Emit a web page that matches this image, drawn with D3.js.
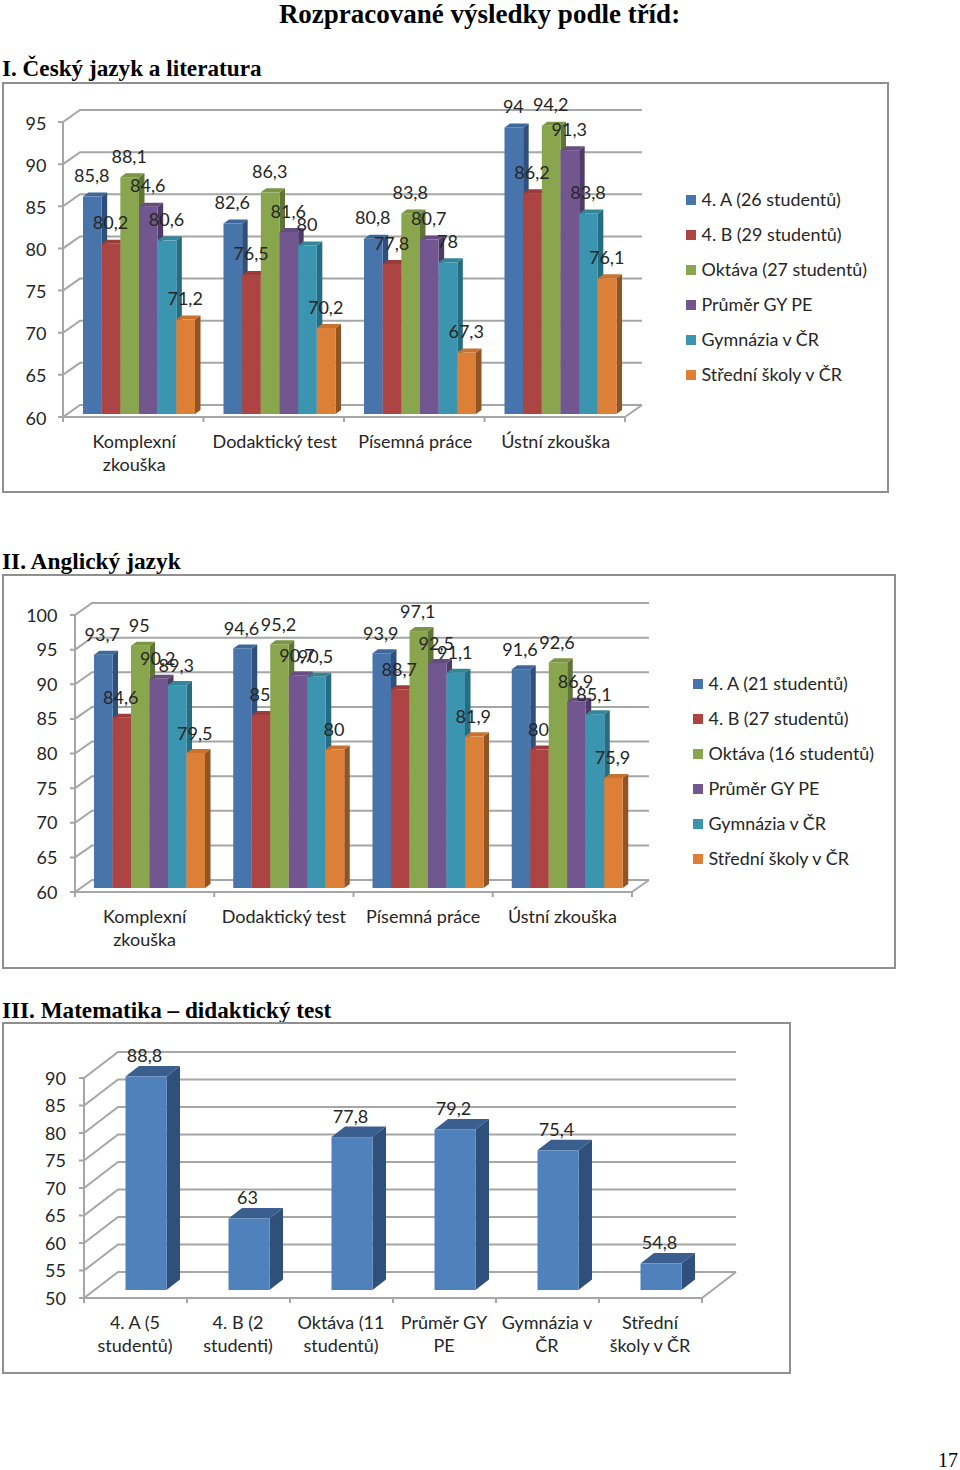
<!DOCTYPE html>
<html><head><meta charset="utf-8">
<script src="https://cdn.jsdelivr.net/npm/d3@7"></script>
<style>
html,body{margin:0;padding:0;background:#fff}
svg{display:block}
.serif{font-family:"Liberation Serif",serif;font-weight:bold;fill:#000}
.lab{font-family:Lato,"Open Sans",sans-serif;fill:#262626}
</style></head><body>
<svg id="c" width="960" height="1470"></svg>
<script>
const exams = ["Komplexní zkouška","Dodaktický test","Písemná práce","Ústní zkouška"];
const czechSeries = ["4. A (26 studentů)","4. B (29 studentů)","Oktáva (27 studentů)","Průměr GY PE","Gymnázia v ČR","Střední školy v ČR"];
const czechValues = [
 [85.8,80.2,88.1,84.6,80.6,71.2],
 [82.6,76.5,86.3,81.6,80,70.2],
 [80.8,77.8,83.8,80.7,78,67.3],
 [94,86.2,94.2,91.3,83.8,76.1]];
const englishSeries = ["4. A (21 studentů)","4. B (27 studentů)","Oktáva (16 studentů)","Průměr GY PE","Gymnázia v ČR","Střední školy v ČR"];
const englishValues = [
 [93.7,84.6,95,90.2,89.3,79.5],
 [94.6,85,95.2,90.7,90.5,80],
 [93.9,88.7,97.1,92.5,91.1,81.9],
 [91.6,80,92.6,86.9,85.1,75.9]];
const mathCategories = ["4. A (5 studentů)","4. B (2 studenti)","Oktáva (11 studentů)","Průměr GY PE","Gymnázia v ČR","Střední školy v ČR"];
const mathValues = [88.8,63,77.8,79.2,75.4,54.8];
const czechTicks = d3.range(60,96,5);
const englishTicks = d3.range(60,101,5);
const mathTicks = d3.range(50,91,5);
const faces = ["#4674ab","#ab4442","#89a64e","#71568f","#3c95b0","#dd8037"];
const sides = ["#2f4f7c","#7c2f2e","#5f7535","#4e3b66","#256d83","#925422"];
const tops  = ["#3d689c","#9a3c3a","#7b9545","#654d80","#358599","#c7722f"];
const mathFace="#4f81bd", mathSide="#30507c", mathTop="#3a5f8e";

const svg=d3.select("#c");
const fmt=v=>String(v).replace(".",",");
const pts=a=>a.map(p=>p.join(",")).join(" ");

function txt(x,y,s,size,cls,anchor){
  return svg.append("text").attr("x",x).attr("y",y).attr("class",cls).attr("font-size",size)
    .attr("text-anchor",anchor||"start").attr("dominant-baseline","middle").text(s);
}
function chart(o){
  svg.append("rect").attr("x",o.frame[0]).attr("y",o.frame[1]).attr("width",o.frame[2]-o.frame[0])
    .attr("height",o.frame[3]-o.frame[1]).attr("fill","#fff").attr("stroke","#8f8f8f").attr("stroke-width",2);
  const y=d3.scaleLinear().domain(o.domain).range(o.yRange);
  const x=d3.scaleBand().domain(o.cats).range(o.xRange);
  const g=svg.append("g");
  const grid="#a6a6a6";
  const [x0,x1]=o.xRange,[dx,dy]=o.wall;
  o.ticks.forEach(t=>{
    g.append("polyline").attr("points",pts([[x0-5,y(t)],[x0,y(t)],[x0+dx,y(t)-dy],[x1+dx,y(t)-dy]]))
      .attr("fill","none").attr("stroke",grid).attr("stroke-width",2);
    txt(o.tickX,y(t)+o.tickDown,t,o.fs,"lab","end");
  });
  g.append("line").attr("x1",x0).attr("x2",x0).attr("y1",y(o.domain[1])).attr("y2",y(o.domain[0])+5).attr("stroke",grid).attr("stroke-width",2);
  g.append("line").attr("x1",x0).attr("x2",x1).attr("y1",y(o.domain[0])).attr("y2",y(o.domain[0])).attr("stroke",grid).attr("stroke-width",2);
  g.append("line").attr("x1",x1).attr("x2",x1+dx).attr("y1",y(o.domain[0])).attr("y2",y(o.domain[0])-dy).attr("stroke",grid).attr("stroke-width",2);
  o.cats.forEach(c=>{ const xx=x(c)+x.bandwidth();
    g.append("line").attr("x1",xx).attr("x2",xx).attr("y1",y(o.domain[0])).attr("y2",y(o.domain[0])+5).attr("stroke",grid).attr("stroke-width",2);
  });
  const [bx,by]=o.barDepth, lift=o.lift;
  const labels=[];
  o.cats.forEach((c,i)=>{
    const inner=d3.scaleBand().domain(d3.range(o.vals[i].length)).range([x(c)+o.inner[0],x(c)+o.inner[1]]);
    o.vals[i].forEach((v,j)=>{
      const L=inner(j),R=L+inner.bandwidth(),T=y(v)-lift,B=y(o.domain[0])-lift;
      g.append("polygon").attr("points",pts([[R,T],[R+bx,T-by],[R+bx,B-by],[R,B]])).attr("fill",o.side(j));
      g.append("polygon").attr("points",pts([[L,T],[L+bx,T-by],[R+bx,T-by],[R,T]])).attr("fill",o.top(j));
      g.append("rect").attr("x",L).attr("y",T).attr("width",R-L).attr("height",B-T).attr("fill",o.face(j));
      labels.push([(L+R)/2+o.labelShift,T-o.labelUp,fmt(v)]);
    });
  });
  labels.forEach(l=>txt(l[0],l[1],l[2],o.fs,"lab","middle"));
  o.cats.forEach(c=>{
    const lines=o.wrap(c), cx=x(c)+x.bandwidth()/2+o.catShift;
    lines.forEach((s,k)=>txt(cx,o.catY+k*o.catLh,s,o.fs,"lab","middle"));
  });
  if(o.legend){
    o.legend.forEach((s,k)=>{
      const yy=o.legY+k*o.legStep;
      svg.append("rect").attr("x",o.legX).attr("y",yy-6).attr("width",10).attr("height",10).attr("fill",faces[k]);
      txt(o.legX+15.5,yy,s,o.fs-0.1,"lab");
    });
  }
}
const wrapExam=c=>c==="Komplexní zkouška"?["Komplexní","zkouška"]:[c];
const mathWrap={"4. A (5 studentů)":["4. A (5","studentů)"],"4. B (2 studenti)":["4. B (2","studenti)"],"Oktáva (11 studentů)":["Oktáva (11","studentů)"],"Průměr GY PE":["Průměr GY","PE"],"Gymnázia v ČR":["Gymnázia v","ČR"],"Střední školy v ČR":["Střední","školy v ČR"]};

txt(479.5,17,"Rozpracované výsledky podle tříd:",27,"serif","middle");
txt(2,71,"I. Český jazyk a literatura",23.2,"serif");
txt(2,564,"II. Anglický jazyk",23.4,"serif");
txt(2,1013,"III. Matematika – didaktický test",23.2,"serif");
txt(958,1462,"17",20,"serif","end").style("font-weight","normal");

chart({frame:[3,83,888,492],domain:[60,95],yRange:[417,122],xRange:[63,625],wall:[17,12],ticks:czechTicks,tickDown:3,
  cats:exams,vals:czechValues,inner:[20,132],barDepth:[5.5,4],lift:3,labelUp:19,labelShift:-0.5,fs:18,tickX:46.5,
  face:j=>faces[j],side:j=>sides[j],top:j=>tops[j],wrap:wrapExam,catY:443,catLh:23.5,catShift:1,
  legend:czechSeries,legX:686,legY:201,legStep:35});
chart({frame:[3,575,895,968],domain:[60,100],yRange:[892,615],xRange:[75,632],wall:[17,12],ticks:englishTicks,tickDown:2,
  cats:exams,vals:englishValues,inner:[19,130],barDepth:[5.5,4],lift:4,labelUp:18,labelShift:-1,fs:18,tickX:57.5,
  face:j=>faces[j],side:j=>sides[j],top:j=>tops[j],wrap:wrapExam,catY:918,catLh:23.5,catShift:0,
  legend:englishSeries,legX:693,legY:685,legStep:35});
chart({frame:[3,1023,790,1373],domain:[50,90],yRange:[1298,1078],xRange:[84,702],wall:[34,26],ticks:mathTicks,tickDown:2,
  cats:mathCategories,vals:mathValues.map(v=>[v]),inner:[41.5,82.5],barDepth:[13.5,10.5],lift:8,labelUp:19,labelShift:-1.5,fs:18,tickX:66,
  face:()=>mathFace,side:()=>mathSide,top:()=>mathTop,wrap:c=>mathWrap[c],catY:1324,catLh:23.5,catShift:-0.5});
</script></body></html>
